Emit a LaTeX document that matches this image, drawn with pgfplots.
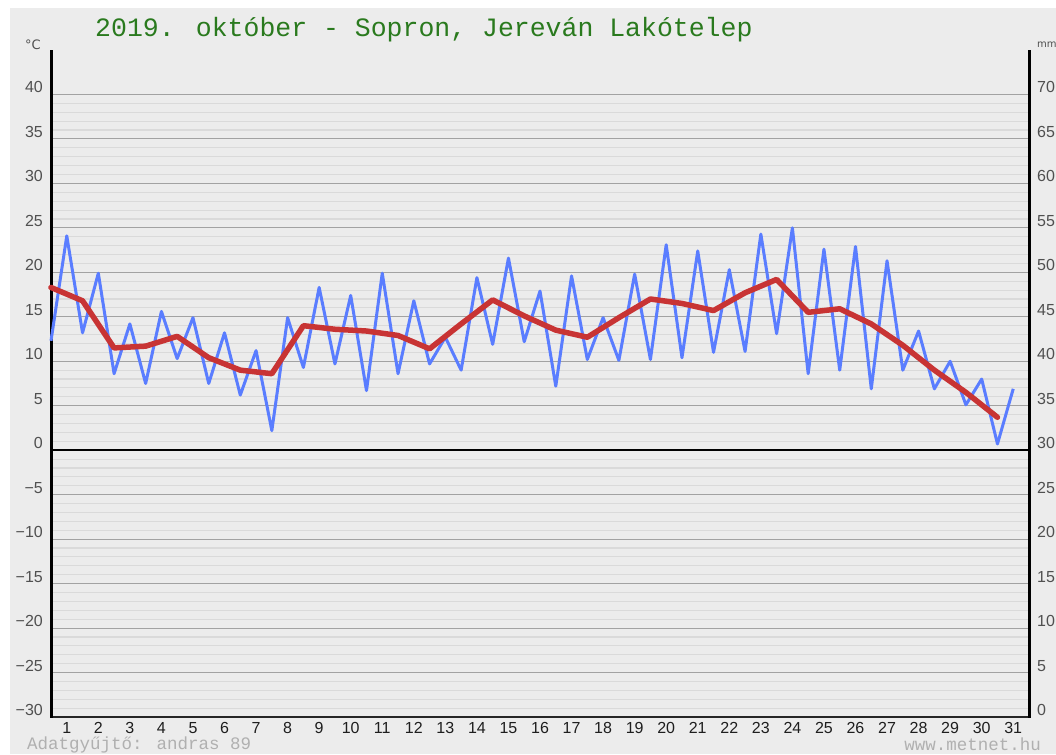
\documentclass[border=0pt]{standalone}
\usepackage{pgfplots}
\pgfplotsset{compat=1.18}
\usepackage{pgfplotstable}
\usepackage{fontspec}
\setmainfont{DejaVu Sans}
\newfontfamily\monofont{Liberation Mono}
\newfontfamily\tickfont{Liberation Sans}
\definecolor{bgc}{HTML}{ECECEC}
\definecolor{gmaj}{HTML}{A2A2A2}
\definecolor{gmin}{HTML}{DADADA}
\definecolor{labc}{HTML}{505050}
\definecolor{xlabc}{HTML}{1E1E1E}
\definecolor{titc}{RGB}{42,122,30}
\definecolor{footc}{HTML}{B0B0B0}
\definecolor{bluel}{RGB}{90,125,255}
\definecolor{redl}{RGB}{200,52,52}

\pgfplotstableread{
x y
0 12.3
0.5 24.1
1 13.2
1.5 19.9
2 8.6
2.5 14.2
3 7.5
3.5 15.6
4 10.3
4.5 14.9
5 7.5
5.5 13.2
6 6.2
6.5 11.2
7 2.2
7.5 14.9
8 9.3
8.5 18.3
9 9.7
9.5 17.4
10 6.7
10.5 19.9
11 8.6
11.5 16.8
12 9.7
12.5 12.7
13 9.0
13.5 19.4
14 11.9
14.5 21.6
15 12.2
15.5 17.9
16 7.2
16.5 19.6
17 10.2
17.5 14.9
18 10.1
18.5 19.8
19 10.2
19.5 23.1
20 10.4
20.5 22.4
21 11.0
21.5 20.3
22 11.1
22.5 24.3
23 13.1
23.5 25.0
24 8.6
24.5 22.6
25 9.0
25.5 22.9
26 6.9
26.5 21.3
27 9.0
27.5 13.4
28 6.9
28.5 10.0
29 5.1
29.5 8.0
30 0.7
30.5 6.9
}\bluedata

\pgfplotstableread{
x y
0 18.3
1 16.8
2 11.5
3 11.7
4 12.8
5 10.4
6 9.0
7 8.6
8 14.0
9 13.6
10 13.4
11 12.9
12 11.4
13 14.2
14 16.9
15 15.1
16 13.5
17 12.7
18 14.9
19 17.0
20 16.5
21 15.7
22 17.7
23 19.2
24 15.5
25 15.9
26 14.2
27 11.8
28 9.0
29 6.5
30 3.7
}\reddata

\begin{document}
\begin{tikzpicture}[x=1pt,y=1pt]
\path[use as bounding box] (0,0) rectangle (1056,754);
\fill[white] (0,0) rectangle (1056,754);
\fill[bgc] (10,0) rectangle (1056,746);

\begin{axis}[
  at={(51pt,37pt)}, anchor=south west,
  scale only axis, width=978pt, height=667pt,
  xmin=0, xmax=31, ymin=-30, ymax=45,
  axis line style={draw=none},
  ytick={-30,-25,...,40},
  yticklabels={−30,−25,−20,−15,−10,−5,0,5,10,15,20,25,30,35,40},
  minor y tick num=4,
  ymajorgrids, yminorgrids,
  major grid style={color=gmaj, line width=1.1pt},
  minor grid style={color=gmin, line width=1.1pt},
  major tick length=0pt, minor tick length=0pt,
  xtick={0.5,1.5,...,30.5},
  xticklabels={1,2,3,4,5,6,7,8,9,10,11,12,13,14,15,16,17,18,19,20,21,22,23,24,25,26,27,28,29,30,31},
  xticklabel style={anchor=base, inner sep=0pt, yshift=-16.3pt, font=\tickfont\fontsize{16}{16}\selectfont, text=xlabc},
  yticklabel style={anchor=base east, inner sep=0pt, xshift=-8pt, yshift=1.5pt, font=\tickfont\fontsize{16}{16}\selectfont, text=labc},
  clip=false,
]
\draw[black, line width=1.6pt] (axis cs:0,0) -- (axis cs:31,0);
\draw[black!85, line width=2pt] (axis cs:0,-30) -- (axis cs:31,-30);
\draw[black, line width=3pt] (axis cs:0,-30.1) -- (axis cs:0,45);
\draw[black, line width=3pt] (axis cs:31,-30.1) -- (axis cs:31,45);
\addplot[color=bluel, line width=3pt, line join=round, mark=none] table[x=x,y=y] {\bluedata};
\addplot[color=redl, line width=5.5pt, line join=round, line cap=round, mark=none] table[x=x,y=y] {\reddata};
\end{axis}

\begin{axis}[
  at={(51pt,37pt)}, anchor=south west,
  scale only axis, width=978pt, height=667pt,
  xmin=0, xmax=31, ymin=0, ymax=75,
  axis y line*=right, hide x axis,
  axis line style={draw=none},
  ytick={0,5,...,70},
  yticklabels={0,5,10,15,20,25,30,35,40,45,50,55,60,65,70},
  major tick length=0pt,
  yticklabel style={anchor=base west, inner sep=0pt, xshift=8pt, yshift=1.5pt, font=\tickfont\fontsize{16}{16}\selectfont, text=labc},
]
\end{axis}

\node[anchor=base west, inner sep=0pt, text=titc, font=\monofont\fontsize{26.5}{26.5}\selectfont] at (95,717) {2019. október - Sopron, Jereván Lakótelep};
\node[anchor=base west, inner sep=0pt, text=labc, font=\fontsize{13}{13}\selectfont] at (25,704) {°C};
\node[anchor=base west, inner sep=0pt, text=labc, font=\fontsize{10}{10}\selectfont] at (1037,706) {mm};
\node[anchor=base west, inner sep=0pt, text=footc, font=\monofont\fontsize{17.5}{17.5}\selectfont] at (27,5) {Adatgyűjtő: andras 89};
\node[anchor=base east, inner sep=0pt, text=footc, font=\monofont\fontsize{17.5}{17.5}\selectfont] at (1041,4) {www.metnet.hu};
\end{tikzpicture}
\end{document}
